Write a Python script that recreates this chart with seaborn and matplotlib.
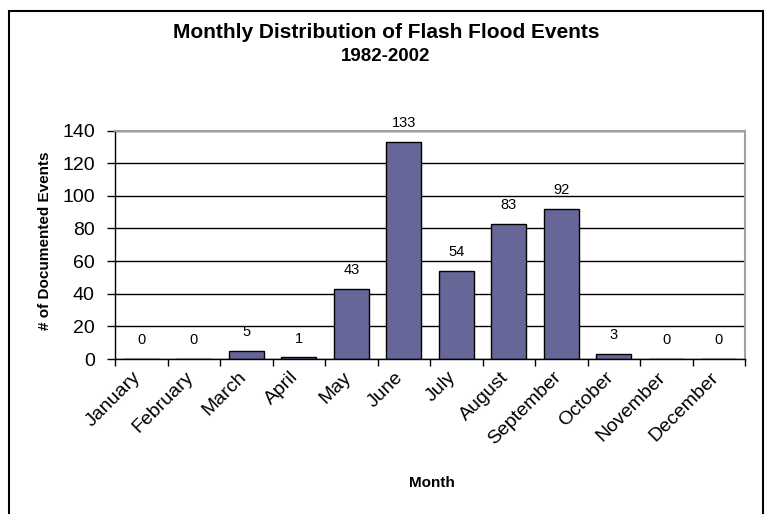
import matplotlib
matplotlib.use("Agg")
import matplotlib.pyplot as plt
import matplotlib.transforms as mtrans
import seaborn as sns
import pandas as pd
from matplotlib.patches import Rectangle

months = ["January", "February", "March", "April", "May", "June", "July",
          "August", "September", "October", "November", "December"]
events = [0, 0, 5, 1, 43, 133, 54, 83, 92, 3, 0, 0]
yticks = [0, 20, 40, 60, 80, 100, 120, 140]

df = pd.DataFrame({"Month": months, "Events": events})

sns.set_theme(style="white")
plt.rcParams["font.family"] = ["Liberation Sans", "DejaVu Sans"]
plt.rcParams["text.color"] = "black"
plt.rcParams["axes.labelcolor"] = "black"
plt.rcParams["xtick.color"] = "black"
plt.rcParams["ytick.color"] = "black"

W, H = 770, 514
fig = plt.figure(figsize=(W / 100, H / 100), dpi=100)
left, right, top, bottom = 115, 745, 130.5, 359
aw, ah = right - left, bottom - top
ax = fig.add_axes([left / W, 1 - bottom / H, aw / W, ah / H])

sns.barplot(data=df, x="Month", y="Events", ax=ax, color="#666699",
            saturation=1, width=0.67, edgecolor="black", linewidth=1, zorder=3)

ax.set_ylim(0, 140)
ax.set_xlim(-0.5, len(months) - 0.5)
ax.set_yticks(yticks)
ax.set_yticklabels([str(v) for v in yticks], fontsize=14)
ax.yaxis.grid(True, color="black", linewidth=1, zorder=0)
ax.xaxis.grid(False)

ax.set_xticks(range(len(months)))
ax.set_xticks([i - 0.5 for i in range(len(months) + 1)], minor=True)
ax.tick_params(axis="x", which="major", length=0, pad=7)
ax.tick_params(axis="x", which="minor", length=5, width=1, color="black",
               direction="out", bottom=True)
ax.tick_params(axis="y", which="major", length=6, width=1, color="black",
               direction="out", left=True, pad=8.5)
ax.set_xticklabels(months, rotation=45, ha="right", rotation_mode="anchor",
                   fontsize=14)
shift = mtrans.ScaledTranslation(-9 / 100, 0, fig.dpi_scale_trans)
for lab in ax.get_xticklabels():
    lab.set_transform(lab.get_transform() + shift)

for s in ["left", "bottom"]:
    ax.spines[s].set_color("black")
    ax.spines[s].set_linewidth(1)
for s in ["top", "right"]:
    ax.spines[s].set_color("#a0a0a0")
    ax.spines[s].set_linewidth(1.5)
ax.spines["bottom"].set_zorder(5)

for i, v in enumerate(events):
    ax.annotate(str(v), (i, v), xytext=(0, 13.5), textcoords="offset points",
                ha="center", va="center", fontsize=10.5)

ax.set_xlabel("Month", fontsize=11, fontweight="bold", va="center")
ax.xaxis.set_label_coords((432 - left) / aw, (bottom - 483) / ah)
ax.set_ylabel("# of Documented Events", fontsize=11, fontweight="bold", va="center")
ax.yaxis.set_label_coords((45 - left) / aw, (bottom - 240.5) / ah)

cx = 0.5 * (9 + 763) / W
fig.text(cx, 1 - 32 / H, "Monthly Distribution of Flash Flood Events",
         ha="center", va="center", fontsize=15, fontweight="bold")
fig.text(cx, 1 - 56 / H, "1982-2002",
         ha="center", va="center", fontsize=13.5, fontweight="bold")

fig.patches.append(Rectangle((9 / W, -0.05), (763 - 9) / W, 1.05 - 11 / H,
                             transform=fig.transFigure, fill=False,
                             edgecolor="black", linewidth=1.5))

fig.savefig("out.png", dpi=100, facecolor="white")
